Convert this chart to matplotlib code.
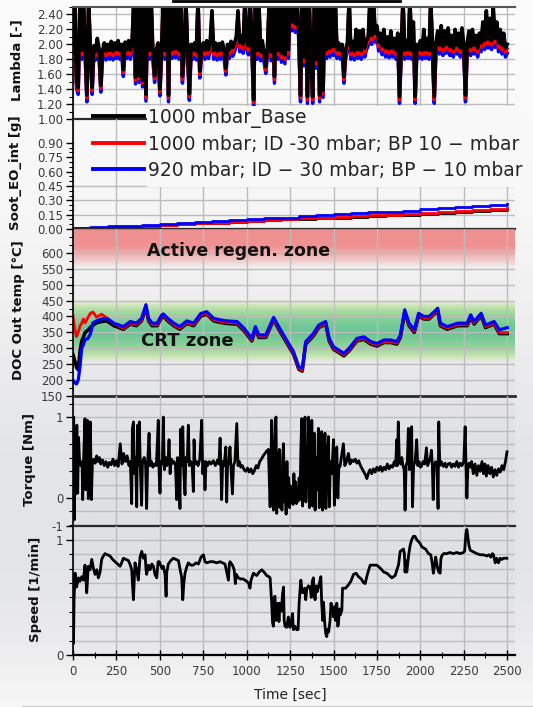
import numpy as np
import matplotlib

matplotlib.use("Agg")

import matplotlib.pyplot as plt
from matplotlib.lines import Line2D
from matplotlib.patches import Rectangle
from matplotlib.ticker import FixedLocator, MultipleLocator, FormatStrFormatter

W, H = 533, 707
XMAX = 2545

SERIES_LABELS = [
    "1000 mbar_Base",
    "1000 mbar; ID -30 mbar; BP 10 \u2212 mbar",
    "920 mbar; ID \u2212 30 mbar; BP \u2212 10 mbar",
]
SERIES_COLORS = ["#000000", "#ff0000", "#0000ff"]

# ---- Lambda [-], sampled every 10 s
LAMBDA_TIME = list(range(0, 2501, 10))
LAMBDA_BASE = [
    2.00, 2.60, 1.50, 1.42, 2.60, 1.92, 2.60, 1.95, 1.32, 2.60,
    1.93, 1.42, 1.98, 1.91, 2.08, 1.94, 1.45, 1.92, 2.02, 1.91,
    2.00, 1.92, 2.04, 1.91, 2.02, 1.93, 2.05, 1.92, 2.00, 1.66,
    2.03, 1.93, 2.05, 1.92, 2.02, 2.60, 1.56, 2.60, 1.58, 2.60,
    1.52, 2.60, 1.33, 2.60, 1.92, 2.60, 1.90, 1.58, 1.93, 2.02,
    1.40, 1.93, 2.60, 1.92, 2.60, 1.32, 2.60, 1.93, 2.60, 1.94,
    2.60, 1.92, 2.60, 1.57, 1.94, 2.60, 1.93, 1.34, 2.00, 1.92,
    2.02, 1.91, 2.60, 1.64, 1.94, 2.02, 1.92, 2.05, 1.93, 2.04,
    2.45, 1.92, 2.02, 1.91, 2.01, 1.92, 2.03, 1.93, 1.68, 2.00,
    1.93, 2.04, 1.96, 2.02, 2.10, 2.45, 2.02, 2.12, 2.00, 2.60,
    2.05, 1.98, 2.60, 2.05, 1.26, 2.60, 1.92, 2.60, 1.90, 2.05,
    1.88, 1.70, 1.98, 2.60, 1.90, 2.60, 1.57, 2.60, 1.92, 2.60,
    1.88, 2.60, 1.86, 2.60, 1.93, 2.60, 2.30, 2.60, 2.28, 2.60,
    2.15, 1.32, 2.60, 1.83, 2.60, 1.30, 2.60, 1.83, 1.30, 2.60,
    1.80, 2.60, 1.32, 2.60, 1.38, 2.60, 1.93, 2.60, 1.95, 2.60,
    1.97, 2.60, 1.93, 2.02, 1.92, 2.00, 1.57, 1.93, 2.02, 2.60,
    1.92, 2.04, 1.91, 2.20, 1.93, 2.18, 1.92, 2.20, 1.95, 2.05,
    2.10, 2.60, 2.12, 2.60, 2.15, 2.25, 2.03, 2.15, 1.98, 2.20,
    1.95, 2.10, 1.94, 2.18, 1.95, 2.08, 1.92, 2.15, 1.30, 1.97,
    2.60, 1.92, 2.05, 1.93, 2.60, 1.92, 2.30, 1.30, 2.00, 1.93,
    2.05, 1.92, 2.20, 1.93, 2.08, 1.92, 2.60, 1.94, 1.30, 2.03,
    2.18, 1.99, 2.25, 1.97, 2.18, 2.00, 2.22, 1.97, 2.12, 1.95,
    2.20, 1.99, 2.15, 1.95, 2.22, 1.99, 1.32, 2.02, 2.18, 1.97,
    2.20, 1.99, 2.12, 1.95, 2.15, 2.02, 2.30, 2.05, 2.45, 2.07,
    2.35, 2.05, 2.50, 2.08, 2.30, 2.02, 2.20, 1.99, 2.15, 1.95,
    2.00,
]
LAMBDA_ID30 = [
    1.94, 2.60, 1.46, 1.38, 2.60, 1.86, 2.60, 1.89, 1.28, 2.60,
    1.87, 1.38, 1.92, 1.85, 2.02, 1.88, 1.41, 1.86, 1.96, 1.85,
    1.94, 1.86, 1.98, 1.85, 1.96, 1.87, 1.99, 1.86, 1.94, 1.62,
    1.97, 1.87, 1.99, 1.86, 1.96, 2.60, 1.52, 2.60, 1.54, 2.60,
    1.48, 2.60, 1.29, 2.60, 1.86, 2.60, 1.84, 1.54, 1.87, 1.96,
    1.36, 1.87, 2.60, 1.86, 2.60, 1.28, 2.60, 1.87, 2.60, 1.88,
    2.60, 1.86, 2.60, 1.53, 1.88, 2.60, 1.87, 1.30, 1.94, 1.86,
    1.96, 1.85, 2.60, 1.60, 1.88, 1.96, 1.86, 1.99, 1.87, 1.98,
    2.39, 1.86, 1.96, 1.85, 1.95, 1.86, 1.97, 1.87, 1.64, 1.94,
    1.87, 1.98, 1.90, 1.96, 2.04, 2.39, 1.96, 2.06, 1.94, 2.60,
    1.99, 1.92, 2.60, 1.99, 1.22, 2.60, 1.86, 2.60, 1.84, 1.99,
    1.82, 1.66, 1.92, 2.60, 1.84, 2.60, 1.53, 2.60, 1.86, 2.60,
    1.82, 2.60, 1.80, 2.60, 1.87, 2.60, 2.24, 2.60, 2.22, 2.60,
    2.09, 1.28, 2.60, 1.77, 2.60, 1.26, 2.60, 1.77, 1.26, 2.60,
    1.74, 2.60, 1.28, 2.60, 1.34, 2.60, 1.87, 2.60, 1.89, 2.60,
    1.91, 2.60, 1.87, 1.96, 1.86, 1.94, 1.53, 1.87, 1.96, 2.60,
    1.86, 1.98, 1.85, 2.14, 1.87, 2.12, 1.86, 2.14, 1.89, 1.99,
    2.04, 2.60, 2.06, 2.60, 2.09, 2.19, 1.97, 2.09, 1.92, 2.14,
    1.89, 2.04, 1.88, 2.12, 1.89, 2.02, 1.86, 2.09, 1.26, 1.91,
    2.60, 1.86, 1.99, 1.87, 2.60, 1.86, 2.24, 1.26, 1.94, 1.87,
    1.99, 1.86, 2.14, 1.87, 2.02, 1.86, 2.60, 1.88, 1.26, 1.97,
    2.12, 1.93, 2.19, 1.91, 2.12, 1.94, 2.16, 1.91, 2.06, 1.89,
    2.14, 1.93, 2.09, 1.89, 2.16, 1.93, 1.28, 1.96, 2.12, 1.91,
    2.14, 1.93, 2.06, 1.89, 2.09, 1.96, 2.24, 1.99, 2.39, 2.01,
    2.29, 1.99, 2.44, 2.02, 2.24, 1.96, 2.14, 1.93, 2.09, 1.89,
    1.94,
]
LAMBDA_920 = [
    1.88, 2.60, 1.41, 1.33, 2.60, 1.80, 2.60, 1.83, 1.23, 2.60,
    1.81, 1.33, 1.86, 1.79, 1.96, 1.82, 1.36, 1.80, 1.90, 1.79,
    1.88, 1.80, 1.92, 1.79, 1.90, 1.81, 1.93, 1.80, 1.88, 1.57,
    1.91, 1.81, 1.93, 1.80, 1.90, 2.60, 1.47, 2.60, 1.49, 2.60,
    1.43, 2.60, 1.24, 2.60, 1.80, 2.60, 1.78, 1.49, 1.81, 1.90,
    1.31, 1.81, 2.60, 1.80, 2.60, 1.23, 2.60, 1.81, 2.60, 1.82,
    2.60, 1.80, 2.60, 1.48, 1.82, 2.60, 1.81, 1.25, 1.88, 1.80,
    1.90, 1.79, 2.60, 1.55, 1.82, 1.90, 1.80, 1.93, 1.81, 1.92,
    2.33, 1.80, 1.90, 1.79, 1.89, 1.80, 1.91, 1.81, 1.59, 1.88,
    1.81, 1.92, 1.84, 1.90, 1.98, 2.33, 1.90, 2.00, 1.88, 2.60,
    1.93, 1.86, 2.60, 1.93, 1.17, 2.60, 1.80, 2.60, 1.78, 1.93,
    1.76, 1.61, 1.86, 2.60, 1.78, 2.60, 1.48, 2.60, 1.80, 2.60,
    1.76, 2.60, 1.74, 2.60, 1.81, 2.60, 2.18, 2.60, 2.16, 2.60,
    2.03, 1.23, 2.60, 1.71, 2.60, 1.21, 2.60, 1.71, 1.21, 2.60,
    1.68, 2.60, 1.23, 2.60, 1.29, 2.60, 1.81, 2.60, 1.83, 2.60,
    1.85, 2.60, 1.81, 1.90, 1.80, 1.88, 1.48, 1.81, 1.90, 2.60,
    1.80, 1.92, 1.79, 2.08, 1.81, 2.06, 1.80, 2.08, 1.83, 1.93,
    1.98, 2.60, 2.00, 2.60, 2.03, 2.13, 1.91, 2.03, 1.86, 2.08,
    1.83, 1.98, 1.82, 2.06, 1.83, 1.96, 1.80, 2.03, 1.21, 1.85,
    2.60, 1.80, 1.93, 1.81, 2.60, 1.80, 2.18, 1.21, 1.88, 1.81,
    1.93, 1.80, 2.08, 1.81, 1.96, 1.80, 2.60, 1.82, 1.21, 1.91,
    2.06, 1.87, 2.13, 1.85, 2.06, 1.88, 2.10, 1.85, 2.00, 1.83,
    2.08, 1.87, 2.03, 1.83, 2.10, 1.87, 1.23, 1.90, 2.06, 1.85,
    2.08, 1.87, 2.00, 1.83, 2.03, 1.90, 2.18, 1.93, 2.33, 1.95,
    2.23, 1.93, 2.38, 1.96, 2.18, 1.90, 2.08, 1.87, 2.03, 1.83,
    1.88,
]

# ---- Soot_EO_int [g], cumulative, every 100 s
SOOT_TIME = list(range(0, 2501, 100))
SOOT_BASE = [0.010, 0.012, 0.015, 0.020, 0.030, 0.040, 0.050, 0.060, 0.065, 0.070,
             0.080, 0.090, 0.100, 0.105, 0.112, 0.120, 0.128, 0.135, 0.142, 0.150,
             0.160, 0.168, 0.178, 0.188, 0.198, 0.205]
SOOT_ID30 = [0.010, 0.012, 0.015, 0.020, 0.030, 0.040, 0.050, 0.060, 0.065, 0.072,
             0.082, 0.092, 0.102, 0.110, 0.120, 0.128, 0.135, 0.145, 0.150, 0.160,
             0.172, 0.180, 0.190, 0.200, 0.210, 0.215]
SOOT_920 = [0.015, 0.020, 0.030, 0.035, 0.045, 0.055, 0.065, 0.075, 0.080, 0.090,
            0.100, 0.110, 0.120, 0.135, 0.150, 0.160, 0.170, 0.175, 0.180, 0.190,
            0.208, 0.220, 0.230, 0.240, 0.250, 0.258]

# ---- DOC Out temp [degC]
TEMP_TIME = [0, 10, 20, 30, 40, 50, 60, 70, 85, 100,
             115, 135, 165, 195, 235, 290, 330, 365, 395, 420,
             435, 455, 485, 510, 520, 550, 580, 615, 655, 695,
             735, 770, 810, 850, 885, 945, 985, 1030, 1050, 1070,
             1110, 1155, 1195, 1235, 1270, 1300, 1320, 1340, 1385, 1415,
             1455, 1475, 1500, 1560, 1590, 1635, 1675, 1715, 1750, 1790,
             1830, 1865, 1885, 1910, 1935, 1965, 1990, 2020, 2050, 2080,
             2100, 2115, 2155, 2215, 2270, 2290, 2310, 2350, 2375, 2425,
             2455, 2500]
TEMP_BASE = [280, 262, 240, 232, 290, 322, 335, 350, 356, 366,
             372, 380, 384, 386, 371, 360, 376, 371, 386, 428,
             386, 371, 371, 396, 400, 384, 371, 360, 378, 371,
             401, 407, 386, 381, 378, 376, 355, 323, 360, 334,
             334, 389, 350, 313, 281, 234, 228, 313, 339, 365,
             376, 323, 297, 276, 292, 323, 328, 313, 307, 318,
             318, 313, 334, 413, 371, 350, 402, 392, 392, 407,
             418, 371, 360, 371, 371, 397, 376, 402, 365, 376,
             346, 346]
TEMP_ID30 = [402, 360, 337, 350, 370, 378, 392, 380, 396, 410,
             414, 398, 407, 395, 378, 363, 379, 374, 389, 431,
             389, 374, 374, 399, 403, 387, 374, 363, 381, 374,
             404, 410, 389, 384, 381, 379, 358, 326, 363, 337,
             337, 392, 353, 316, 284, 237, 231, 316, 342, 368,
             379, 326, 300, 279, 295, 326, 331, 316, 310, 321,
             321, 316, 337, 416, 374, 353, 405, 395, 395, 410,
             421, 374, 363, 374, 374, 400, 379, 405, 368, 379,
             349, 349]
TEMP_920 = [200, 192, 188, 200, 240, 300, 312, 328, 330, 345,
            380, 386, 392, 394, 379, 368, 384, 379, 394, 437,
            394, 379, 379, 404, 408, 392, 379, 368, 386, 379,
            409, 415, 394, 389, 386, 384, 363, 331, 368, 342,
            342, 397, 358, 321, 289, 242, 236, 321, 347, 373,
            384, 331, 305, 284, 300, 331, 336, 321, 315, 326,
            326, 321, 342, 421, 379, 358, 410, 400, 400, 415,
            426, 379, 368, 379, 379, 405, 384, 410, 373, 384,
            358, 365]

# ---- Torque [Nm] (normalised)
TORQUE_TIME = [
    0, 4, 7, 12, 17, 22, 27, 32, 38, 45, 52, 56, 62, 69, 74, 79, 83, 88, 94, 100,
    106, 112, 120, 128, 136, 144, 152, 160, 170, 180, 190, 200, 210, 220, 230, 240, 250, 260, 272, 282,
    292, 302, 312, 322, 330, 338, 342, 348, 354, 360, 367, 372, 378, 382, 388, 395, 400, 410, 418, 424,
    430, 438, 444, 452, 460, 470, 480, 491, 496, 501, 506, 514, 520, 526, 534, 540, 547, 553, 559, 566,
    574, 582, 590, 597, 602, 608, 616, 620, 626, 632, 638, 645, 650, 658, 664, 670, 678, 686, 693, 697,
    702, 712, 720, 730, 741, 747, 754, 760, 766, 775, 785, 795, 808, 820, 832, 840, 847, 852, 856, 862,
    870, 880, 885, 890, 897, 904, 910, 918, 924, 932, 943, 950, 958, 966, 975, 985, 995, 1005, 1015, 1025,
    1035, 1045, 1055, 1065, 1075, 1085, 1095, 1105, 1115, 1125, 1135, 1140, 1144, 1150, 1154, 1160, 1165, 1169, 1173, 1178,
    1183, 1188, 1193, 1198, 1203, 1207, 1212, 1217, 1222, 1227, 1232, 1237, 1242, 1247, 1252, 1257, 1262, 1267, 1272, 1277,
    1282, 1287, 1292, 1297, 1302, 1307, 1312, 1317, 1322, 1327, 1332, 1336, 1341, 1346, 1351, 1356, 1361, 1366, 1370, 1375,
    1380, 1385, 1390, 1394, 1400, 1406, 1413, 1418, 1424, 1432, 1437, 1442, 1451, 1456, 1462, 1471, 1476, 1482, 1490, 1500,
    1505, 1511, 1519, 1525, 1531, 1538, 1545, 1557, 1565, 1575, 1586, 1595, 1605, 1615, 1625, 1635, 1645, 1655, 1665, 1675,
    1685, 1692, 1700, 1710, 1720, 1730, 1740, 1750, 1760, 1770, 1780, 1790, 1800, 1810, 1820, 1830, 1840, 1850, 1858, 1864,
    1868, 1873, 1879, 1887, 1893, 1900, 1907, 1912, 1918, 1925, 1931, 1937, 1943, 1950, 1955, 1961, 1970, 1979, 1985, 1992,
    2000, 2006, 2015, 2025, 2035, 2042, 2050, 2058, 2064, 2069, 2074, 2080, 2088, 2096, 2102, 2106, 2112, 2120, 2133, 2142,
    2150, 2160, 2171, 2180, 2190, 2200, 2210, 2220, 2230, 2240, 2250, 2258, 2263, 2268, 2274, 2280, 2287, 2295, 2305, 2315,
    2325, 2335, 2345, 2355, 2364, 2372, 2380, 2390, 2400, 2410, 2420, 2430, 2440, 2450, 2460, 2470, 2480, 2490, 2499,
]
TORQUE_VALUE = [
    0.45, 1.00, -0.27, 0.85, 0.05, 0.90, 0.06, 0.75, 0.45, 0.40, 0.45, -0.02, 0.55, 0.98, 0.10, 0.45, 0.96, -0.01, 0.50, 0.94,
    -0.02, 0.45, 0.48, 0.43, 0.52, 0.45, 0.50, 0.42, 0.47, 0.40, 0.45, 0.38, 0.44, 0.41, 0.48, 0.40, 0.46, 0.39, 0.67, 0.42,
    0.55, 0.45, 0.52, 0.40, 0.45, -0.07, 0.86, 0.94, 0.30, 0.50, -0.11, 0.90, 0.40, 0.94, 0.35, -0.09, 0.45, 0.50, 0.40, -0.13,
    0.45, 0.80, 0.40, 0.45, 0.38, 0.42, 0.40, 0.96, 0.30, 0.06, 0.45, 0.42, 1.00, 0.35, 0.50, 0.40, 0.45, 0.72, 0.30, 0.48,
    0.43, 0.45, 0.40, -0.02, 0.50, 0.45, -0.13, 0.85, 0.40, 0.88, 0.30, 0.04, 0.50, 0.45, 0.90, 0.40, 0.45, 0.40, 0.08, 0.72,
    0.42, 0.45, 0.40, 0.48, 0.96, 0.30, 0.45, 0.10, 0.45, 0.40, 0.45, 0.42, 0.46, 0.40, 0.47, 0.42, 0.74, 0.35, -0.02, 0.45,
    0.40, 0.63, -0.05, 0.40, 0.45, 0.63, 0.35, 0.05, 0.40, 0.45, 0.92, 0.40, 0.45, 0.38, 0.40, 0.35, 0.33, 0.37, 0.32, 0.36,
    0.30, 0.34, 0.40, 0.37, 0.45, 0.48, 0.52, 0.55, 0.58, 0.60, -0.11, 0.45, 0.96, 0.20, -0.15, 0.50, 0.95, 1.00, -0.19, 0.55,
    -0.10, 0.60, -0.12, 0.30, -0.15, 0.50, 0.67, -0.05, 0.20, -0.20, 0.45, -0.08, 0.25, -0.12, 0.15, -0.05, 0.10, -0.08, 0.30, -0.05,
    0.20, -0.07, 0.05, -0.04, 0.25, -0.02, 0.60, 0.98, -0.10, 0.30, 0.80, 1.00, -0.05, 0.45, 0.20, 1.00, -0.12, 0.55, 0.20, 0.96,
    -0.10, 0.40, 0.80, -0.15, 0.50, 0.10, 0.86, -0.12, 0.50, 0.82, -0.15, 0.45, 0.80, -0.13, 0.40, 0.76, -0.11, 0.45, 0.30, 0.72,
    -0.09, 0.45, 0.63, 0.00, 0.40, 0.39, 0.50, 0.67, 0.40, 0.45, 0.55, 0.42, 0.47, 0.45, 0.48, 0.43, 0.46, 0.40, 0.36, 0.32,
    0.28, 0.24, 0.30, 0.35, 0.30, 0.36, 0.32, 0.38, 0.34, 0.39, 0.33, 0.38, 0.35, 0.42, 0.36, 0.40, 0.38, 0.45, 0.40, 0.72,
    0.40, 0.94, 0.45, 0.42, 0.50, 0.40, 0.35, -0.15, 0.40, 0.45, 0.86, 0.35, 0.45, 0.88, -0.11, 0.40, 0.45, 0.72, 0.40, 0.45,
    0.38, 0.39, 0.45, 0.42, 0.62, 0.40, 0.45, 0.50, 0.59, 0.40, -0.02, 0.40, 0.45, 0.42, -0.13, 0.94, 0.40, 0.45, 0.39, 0.43,
    0.38, 0.42, 0.43, 0.38, 0.42, 0.39, 0.45, 0.38, 0.43, 0.40, 0.45, 0.88, 0.40, 0.00, 0.40, 0.43, 0.38, 0.45, 0.30, 0.42,
    0.28, 0.40, 0.33, 0.45, 0.30, 0.42, 0.27, 0.40, 0.30, 0.38, 0.26, 0.35, 0.28, 0.36, 0.32, 0.40, 0.35, 0.45, 0.57,
]

# ---- Speed [1/min] (normalised)
SPEED_TIME = [
    0, 3, 6, 12, 21, 31, 40, 50, 60, 69, 74, 79, 88, 98, 108, 118, 127, 137, 146, 156,
    165, 175, 184, 198, 213, 228, 242, 257, 271, 280, 290, 305, 319, 330, 338, 343, 348, 352, 357, 366,
    376, 386, 396, 405, 415, 420, 424, 434, 444, 454, 463, 472, 482, 490, 497, 505, 513, 520, 530, 536,
    540, 549, 563, 578, 593, 607, 617, 626, 632, 638, 645, 654, 664, 679, 693, 708, 722, 737, 751, 760,
    770, 789, 808, 827, 847, 861, 875, 885, 895, 900, 904, 918, 928, 935, 940, 952, 965, 980, 1000, 1012,
    1019, 1025, 1039, 1048, 1058, 1072, 1087, 1100, 1115, 1128, 1135, 1140, 1144, 1149, 1154, 1158, 1163, 1168, 1173, 1180,
    1186, 1192, 1200, 1206, 1212, 1216, 1221, 1230, 1240, 1245, 1250, 1258, 1264, 1269, 1278, 1288, 1296, 1302, 1307, 1312,
    1317, 1322, 1327, 1334, 1340, 1346, 1355, 1365, 1372, 1378, 1384, 1389, 1394, 1400, 1406, 1413, 1420, 1427, 1432, 1438,
    1442, 1447, 1451, 1456, 1461, 1466, 1472, 1480, 1486, 1490, 1496, 1500, 1506, 1512, 1519, 1524, 1528, 1534, 1540, 1548,
    1552, 1557, 1570, 1586, 1600, 1615, 1630, 1644, 1660, 1672, 1682, 1695, 1711, 1730, 1749, 1765, 1778, 1790, 1807, 1822,
    1836, 1846, 1855, 1865, 1874, 1884, 1894, 1903, 1908, 1912, 1917, 1922, 1932, 1941, 1950, 1960, 1969, 1980, 1998, 2008,
    2018, 2030, 2047, 2060, 2068, 2075, 2082, 2088, 2094, 2100, 2106, 2114, 2118, 2123, 2134, 2152, 2170, 2190, 2210, 2230,
    2248, 2255, 2262, 2268, 2274, 2280, 2287, 2300, 2325, 2345, 2364, 2383, 2395, 2406, 2415, 2421, 2431, 2440, 2450, 2460,
    2470, 2480, 2498,
]
SPEED_VALUE = [
    0.70, 0.10, 0.48, 0.71, 0.59, 0.67, 0.64, 0.68, 0.65, 0.78, 0.68, 0.54, 0.77, 0.74, 0.83, 0.75, 0.70, 0.74, 0.67, 0.72,
    0.83, 0.86, 0.88, 0.87, 0.86, 0.83, 0.81, 0.79, 0.77, 0.80, 0.84, 0.83, 0.82, 0.78, 0.74, 0.60, 0.48, 0.62, 0.80, 0.75,
    0.65, 0.85, 0.90, 0.84, 0.87, 0.75, 0.70, 0.78, 0.74, 0.79, 0.77, 0.70, 0.67, 0.81, 0.81, 0.78, 0.75, 0.77, 0.70, 0.51,
    0.72, 0.79, 0.82, 0.84, 0.83, 0.82, 0.74, 0.67, 0.48, 0.62, 0.71, 0.76, 0.80, 0.78, 0.78, 0.80, 0.79, 0.85, 0.87, 0.81,
    0.80, 0.81, 0.81, 0.80, 0.81, 0.80, 0.79, 0.72, 0.65, 0.79, 0.81, 0.78, 0.74, 0.62, 0.70, 0.67, 0.66, 0.66, 0.64, 0.62,
    0.58, 0.65, 0.71, 0.70, 0.69, 0.72, 0.74, 0.72, 0.69, 0.68, 0.67, 0.55, 0.45, 0.28, 0.25, 0.50, 0.51, 0.30, 0.33, 0.45,
    0.29, 0.45, 0.38, 0.52, 0.59, 0.30, 0.25, 0.24, 0.33, 0.25, 0.24, 0.30, 0.36, 0.22, 0.25, 0.22, 0.22, 0.45, 0.56, 0.65,
    0.58, 0.54, 0.56, 0.58, 0.48, 0.57, 0.60, 0.59, 0.50, 0.64, 0.67, 0.52, 0.48, 0.60, 0.55, 0.59, 0.63, 0.68, 0.45, 0.30,
    0.46, 0.35, 0.25, 0.18, 0.16, 0.22, 0.20, 0.30, 0.45, 0.38, 0.40, 0.33, 0.42, 0.30, 0.45, 0.25, 0.26, 0.40, 0.35, 0.39,
    0.58, 0.58, 0.58, 0.61, 0.64, 0.70, 0.71, 0.68, 0.66, 0.63, 0.62, 0.70, 0.78, 0.78, 0.78, 0.76, 0.74, 0.72, 0.71, 0.69,
    0.67, 0.68, 0.69, 0.74, 0.78, 0.90, 0.91, 0.92, 0.88, 0.72, 0.82, 0.72, 0.86, 0.95, 1.00, 1.03, 1.03, 1.00, 0.97, 0.94,
    0.93, 0.92, 0.88, 0.87, 0.80, 0.71, 0.78, 0.85, 0.80, 0.75, 0.72, 0.71, 0.83, 0.86, 0.88, 0.88, 0.89, 0.88, 0.89, 0.88,
    0.89, 0.90, 1.05, 1.09, 1.02, 0.95, 0.91, 0.90, 0.88, 0.87, 0.87, 0.86, 0.87, 0.85, 0.88, 0.87, 0.80, 0.84, 0.80, 0.84,
    0.83, 0.84, 0.84,
]

GRID = "#bcbcbc"
TICK_TXT = "#3a3a3a"


def px_box(top, bottom, left=73, right=515):
    return [left / W, 1 - bottom / H, (right - left) / W, (bottom - top) / H]


def vertical_gradient(stops_px, stops_hex, n=300):
    ys = np.linspace(0, 1, n)
    pos = np.array(stops_px, dtype=float)
    pos = (pos - pos[0]) / (pos[-1] - pos[0])
    rgb = np.array([matplotlib.colors.to_rgb(c) for c in stops_hex])
    img = np.stack([np.interp(ys, pos, rgb[:, k]) for k in range(3)], axis=-1)
    return img[:, None, :]


def style_panel(ax, ylim):
    ax.set_facecolor("none")
    ax.set_xlim(0, XMAX)
    ax.set_ylim(*ylim)
    ax.spines["top"].set_visible(False)
    ax.spines["right"].set_visible(False)
    ax.spines["left"].set_color("black")
    ax.spines["left"].set_linewidth(1.2)
    ax.spines["bottom"].set_color("#2a2a2a")
    ax.spines["bottom"].set_linewidth(1.6)
    ax.xaxis.set_major_locator(MultipleLocator(250))
    ax.xaxis.set_minor_locator(MultipleLocator(125))
    ax.grid(True, axis="x", which="major", color=GRID, linewidth=1.0)
    ax.tick_params(axis="x", which="both", bottom=False, labelbottom=False)
    ax.tick_params(axis="y", which="major", length=5, width=1.0, color="black",
                   labelsize=8.5, labelcolor=TICK_TXT, pad=2)
    ax.tick_params(axis="y", which="minor", length=3, width=0.8, color="black")
    ax.set_axisbelow(True)


fig = plt.figure(figsize=(W / 100, H / 100), dpi=100)

# background gradients
bg = fig.add_axes([0, 0, 1, 1])
bg.set_zorder(-20)
bg.axis("off")
bg.imshow(vertical_gradient([0, 200, 330, 450, 560, 640, 707],
                            ["#fcfcfc", "#f7f7f7", "#eeeeef", "#e4e5e8", "#e3e4e7", "#ebebed", "#f7f7f7"]),
          extent=[0, 1, 0, 1], aspect="auto", transform=bg.transAxes)
plot_bg = fig.add_axes(px_box(7, 655, 75, 515))
plot_bg.set_zorder(-19)
plot_bg.axis("off")
plot_bg.imshow(vertical_gradient([7, 200, 330, 450, 560, 655],
                                 ["#fefefe", "#f6f6f6", "#ececee", "#dfe0e4", "#dfe0e4", "#e9e9eb"]),
               extent=[0, 1, 0, 1], aspect="auto", transform=plot_bg.transAxes)

ax_lam = fig.add_axes(px_box(7, 119))
ax_soot = fig.add_axes(px_box(119, 229))
ax_temp = fig.add_axes(px_box(229, 396))
ax_tq = fig.add_axes(px_box(396, 526))
ax_spd = fig.add_axes(px_box(526, 655))

# Lambda
style_panel(ax_lam, (1.0, 2.5))
ax_lam.spines["top"].set_visible(True)
ax_lam.spines["top"].set_color("#555555")
ax_lam.spines["top"].set_linewidth(1.5)
ax_lam.yaxis.set_major_locator(MultipleLocator(0.2))
ax_lam.yaxis.set_minor_locator(MultipleLocator(0.1))
ax_lam.yaxis.set_major_formatter(FormatStrFormatter("%.2f"))
ax_lam.grid(True, axis="y", which="major", color=GRID, linewidth=1.0)
ax_lam.plot(LAMBDA_TIME, LAMBDA_920, color=SERIES_COLORS[2], lw=2.5)
ax_lam.plot(LAMBDA_TIME, LAMBDA_ID30, color=SERIES_COLORS[1], lw=2.5)
ax_lam.plot(LAMBDA_TIME, LAMBDA_BASE, color=SERIES_COLORS[0], lw=2.6)

# Soot
style_panel(ax_soot, (0.0, 1.15))
ax_soot.yaxis.set_major_locator(FixedLocator([0, 0.15, 0.30, 0.45, 0.60, 0.75, 0.90]))
ax_soot.yaxis.set_minor_locator(FixedLocator([0.05, 0.10, 0.20, 0.25, 0.35, 0.40, 0.50, 0.55,
                                              0.65, 0.70, 0.80, 0.85]))
ax_soot.yaxis.set_major_formatter(FormatStrFormatter("%.2f"))
for level in [0.15, 0.30, 0.45]:
    ax_soot.axhline(level, color=GRID, linewidth=1.0, zorder=0.5)
ax_soot.plot(SOOT_TIME, SOOT_BASE, color=SERIES_COLORS[0], lw=2.0, drawstyle="steps-post")
ax_soot.plot(SOOT_TIME, SOOT_ID30, color=SERIES_COLORS[1], lw=2.0, drawstyle="steps-post")
ax_soot.plot(SOOT_TIME, SOOT_920, color=SERIES_COLORS[2], lw=2.0, drawstyle="steps-post")

# DOC out temperature with zones
style_panel(ax_temp, (150, 675))
ax_temp.yaxis.set_major_locator(FixedLocator(list(range(150, 601, 50))))
ax_temp.yaxis.set_minor_locator(MultipleLocator(25))
ax_temp.grid(True, axis="y", which="major", color=GRID, linewidth=1.0)
ax_temp.spines["bottom"].set_linewidth(2.0)

red_n = 120
red_t = np.linspace(0, 1, red_n)
red_img = np.zeros((red_n, 1, 4))
red_img[..., 0] = 0.94
red_img[..., 1] = 0.50
red_img[..., 2] = 0.50
red_img[:, 0, 3] = 0.85 * np.clip(red_t / 0.55, 0, 1) ** 0.8
ax_temp.imshow(red_img, extent=[0, XMAX, 555, 675], aspect="auto", origin="lower", zorder=0)

grn_n = 200
g = np.linspace(-1, 1, grn_n)
d = np.abs(g)
core = np.array([0.36, 0.76, 0.55])
edge = np.array([0.80, 0.91, 0.55])
mix = np.clip(d, 0, 1)[:, None] ** 1.4
grn_img = np.zeros((grn_n, 1, 4))
grn_img[:, 0, :3] = core * (1 - mix) + edge * mix
grn_img[:, 0, 3] = 0.9 * np.clip(1 - d ** 5, 0, 1)
ax_temp.imshow(grn_img, extent=[0, XMAX, 258, 452], aspect="auto", origin="lower", zorder=0)

ax_temp.text(426, 606, "Active regen. zone", fontsize=12.5, fontweight="bold",
             color="#111111", va="center", ha="left")
ax_temp.text(392, 322, "CRT zone", fontsize=13, fontweight="bold",
             color="#111111", va="center", ha="left")
ax_temp.plot(TEMP_TIME, TEMP_BASE, color=SERIES_COLORS[0], lw=2.5)
ax_temp.plot(TEMP_TIME, TEMP_ID30, color=SERIES_COLORS[1], lw=2.0)
ax_temp.plot(TEMP_TIME, TEMP_920, color=SERIES_COLORS[2], lw=2.3)

# Torque
style_panel(ax_tq, (-0.346, 1.26))
ax_tq.yaxis.set_major_locator(FixedLocator([-0.346, 0, 1]))
ax_tq.yaxis.set_minor_locator(MultipleLocator(1 / 6))
ax_tq.set_yticklabels(["-1", "0", "1"])
ax_tq.grid(True, axis="y", which="both", color=GRID, linewidth=1.0)
ax_tq.plot(TORQUE_TIME, TORQUE_VALUE, color="black", lw=2.0)

# Speed
style_panel(ax_spd, (0.0, 1.12))
ax_spd.yaxis.set_major_locator(FixedLocator([0, 1]))
ax_spd.yaxis.set_minor_locator(MultipleLocator(1 / 8))
ax_spd.set_yticklabels(["0", "1"])
ax_spd.grid(True, axis="y", which="both", color=GRID, linewidth=1.0)
ax_spd.spines["bottom"].set_color("black")
ax_spd.plot(SPEED_TIME, SPEED_VALUE, color="black", lw=2.0)
ax_spd.tick_params(axis="x", which="major", bottom=True, labelbottom=True, direction="inout",
                   length=7, width=1.0, color="black", labelsize=8.5, labelcolor=TICK_TXT, pad=4)
ax_spd.tick_params(axis="x", which="minor", bottom=True, direction="inout", length=4, width=0.8,
                   color="black")
ax_spd.set_xticks(list(range(0, 2501, 250)))

# axis titles
ylabels = [
    ("Lambda [-]", 17, 60),
    ("Soot_EO_int [g]", 16, 173),
    ("DOC Out temp [\u00b0C]", 19, 310),
    ("Torque [Nm]", 30, 460),
    ("Speed [1/min]", 35, 589),
]
for text, xp, yp in ylabels:
    fig.text(xp / W, 1 - yp / H, text, rotation=90, fontsize=9.5, fontweight="bold",
             color="#111111", ha="center", va="center")
fig.text(290 / W, 1 - 695 / H, "Time [sec]", fontsize=10, color="#222222",
         ha="center", va="center")

# legend: opaque block behind the label texts only
fig.add_artist(Rectangle((147 / W, 1 - 187 / H), (522 - 147) / W, (187 - 106) / H,
                         transform=fig.transFigure, facecolor="#f8f8f8", edgecolor="none",
                         zorder=3))
handles = [Line2D([0], [0], color=c, lw=2.8) for c in SERIES_COLORS]
leg = fig.legend(handles, SERIES_LABELS, loc="upper left", bbox_to_anchor=(89 / W, 1 - 104 / H),
                 fontsize=13.5, frameon=False, handlelength=2.75, handletextpad=0.2,
                 labelspacing=0.37, borderpad=0.2, borderaxespad=0)
for t in leg.get_texts():
    t.set_color("#262626")

# frame decorations
fig.add_artist(Line2D([173 / W, 400 / W], [1 - 1 / H, 1 - 1 / H], color="black", lw=2,
                      transform=fig.transFigure))
fig.add_artist(Line2D([22 / W, 533 / W], [1 - 706 / H, 1 - 706 / H], color="#d0d0d0", lw=1,
                      transform=fig.transFigure))

fig.savefig("out.png", dpi=100)
